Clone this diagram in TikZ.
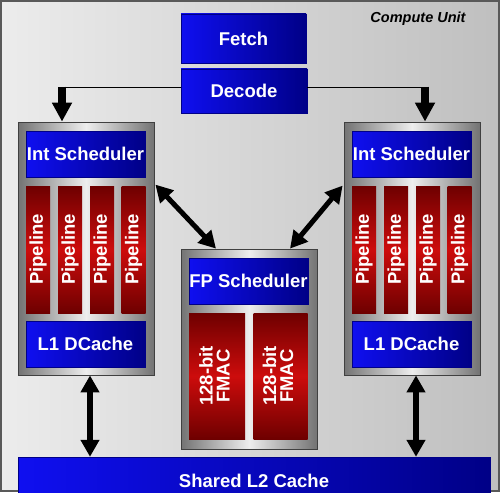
\documentclass[tikz,border=0pt]{standalone}
\usepackage{fontspec}
\setmainfont{Liberation Sans}
\usetikzlibrary{arrows.meta,calc}

\definecolor{cublue}{RGB}{15,15,240}
\definecolor{cubluedark}{RGB}{0,0,135}
\definecolor{pipered}{RGB}{205,12,12}
\definecolor{pipedark}{RGB}{110,0,0}
\definecolor{framegray}{RGB}{115,115,115}
\definecolor{framelight}{RGB}{238,238,238}

\tikzset{
  labelfont/.style={text=white, font=\fontsize{18.5}{20}\selectfont\bfseries},
  unitbox/.style={draw=black!75, line width=0.8pt, left color=framegray, right color=framegray, middle color=framelight},
  bluebox/.style={labelfont, draw=cubluedark, line width=0.4pt, left color=cublue, right color=cubluedark, inner sep=0pt},
  redbox/.style={labelfont, draw=none, top color=pipedark, bottom color=pipedark, middle color=pipered, inner sep=0pt},
  bigarrow/.style={line width=8pt, -{Triangle[width=19pt,length=19pt]}},
  dblarrow/.style={line width=6pt, {Triangle[width=18pt,length=17pt]}-{Triangle[width=18pt,length=17pt]}}
}

\begin{document}
\begin{tikzpicture}[x=1pt, y=-1pt]
        \useasboundingbox (0,0) rectangle (500,492);
        \clip (0,0) rectangle (500,492);
        % Background
        \draw[draw=black!65, line width=2pt, left color=gray!15, right color=gray!50] (1,1) rectangle (499,491);
        \node[font=\fontsize{14.5}{16}\selectfont\bfseries\itshape] (cutitle) at (418,19) {Compute Unit};

        % Front end
        \node[bluebox, minimum width=125, minimum height=49] (fetch) at (243.5,38.5) {Fetch};
        \node[bluebox, minimum width=126, minimum height=44] (decode) at (244,91) {Decode};

        % Left integer cluster
        \node[unitbox, minimum width=136, minimum height=253] (lcu) at (86,248.5) {};
        \node[bluebox, minimum width=119, minimum height=46] (lsched) at (85.5,154) {Int Scheduler};
        \node[redbox, minimum width=24, minimum height=127] (lpipe1) at (38,249.5) {\rotatebox{90}{Pipeline}};
        \node[redbox, minimum width=24, minimum height=127] (lpipe2) at (70,249.5) {\rotatebox{90}{Pipeline}};
        \node[redbox, minimum width=24, minimum height=127] (lpipe3) at (102,249.5) {\rotatebox{90}{Pipeline}};
        \node[redbox, minimum width=24, minimum height=127] (lpipe4) at (133.5,249.5) {\rotatebox{90}{Pipeline}};
        \node[bluebox, minimum width=119, minimum height=46] (ldcache) at (85.5,344) {L1 DCache};

        % Right integer cluster
        \node[unitbox, minimum width=136, minimum height=253] (rcu) at (412,248.5) {};
        \node[bluebox, minimum width=119, minimum height=46] (rsched) at (411.5,154) {Int Scheduler};
        \node[redbox, minimum width=24, minimum height=127] (rpipe1) at (364,249.5) {\rotatebox{90}{Pipeline}};
        \node[redbox, minimum width=24, minimum height=127] (rpipe2) at (396,249.5) {\rotatebox{90}{Pipeline}};
        \node[redbox, minimum width=24, minimum height=127] (rpipe3) at (428,249.5) {\rotatebox{90}{Pipeline}};
        \node[redbox, minimum width=24, minimum height=127] (rpipe4) at (459.5,249.5) {\rotatebox{90}{Pipeline}};
        \node[bluebox, minimum width=119, minimum height=46] (rdcache) at (411.5,344) {L1 DCache};

        % Floating point cluster
        \node[unitbox, minimum width=136, minimum height=200] (fp) at (249,349) {};
        \node[bluebox, minimum width=119, minimum height=46] (fpsched) at (248.5,281) {FP Scheduler};
        \node[redbox, minimum width=56, minimum height=126] (fmac1) at (217,376) {\rotatebox{90}{\begin{tabular}{@{}c@{}}128-bit\\[-3pt]FMAC\end{tabular}}};
        \node[redbox, minimum width=54, minimum height=126] (fmac2) at (280.5,376) {\rotatebox{90}{\begin{tabular}{@{}c@{}}128-bit\\[-3pt]FMAC\end{tabular}}};

        % L2
        \node[bluebox, minimum width=472, minimum height=48] (l2) at (254,481) {Shared L2 Cache};

        % Arrows
        \coordinate (ltap) at (62,87);
        \coordinate (rtap) at (425,87);
        \draw[line width=0.8pt] (decode.west |- ltap) -- (ltap);
        \draw[line width=0.8pt] (decode.east |- rtap) -- (rtap);
        \draw[bigarrow] ($(ltap)+(0,-0.4)$) -- (ltap |- lcu.north);
        \draw[bigarrow] ($(rtap)+(0,-0.4)$) -- (rtap |- rcu.north);

        \draw[dblarrow, line width=5pt] ($(lcu.north east)+(1,63)$) -- ($(fp.north)+(-33,0)$);
        \draw[dblarrow, line width=5pt] ($(rcu.north west)+(-1,64)$) -- ($(fp.north)+(41,0)$);

        \coordinate (lbus) at ($(lcu.south)+(4,0)$);
        \coordinate (rbus) at ($(rcu.south)+(4,0)$);
        \draw[dblarrow] (lbus) -- (lbus |- l2.north);
        \draw[dblarrow] (rbus) -- (rbus |- l2.north);
\end{tikzpicture}
\end{document}
